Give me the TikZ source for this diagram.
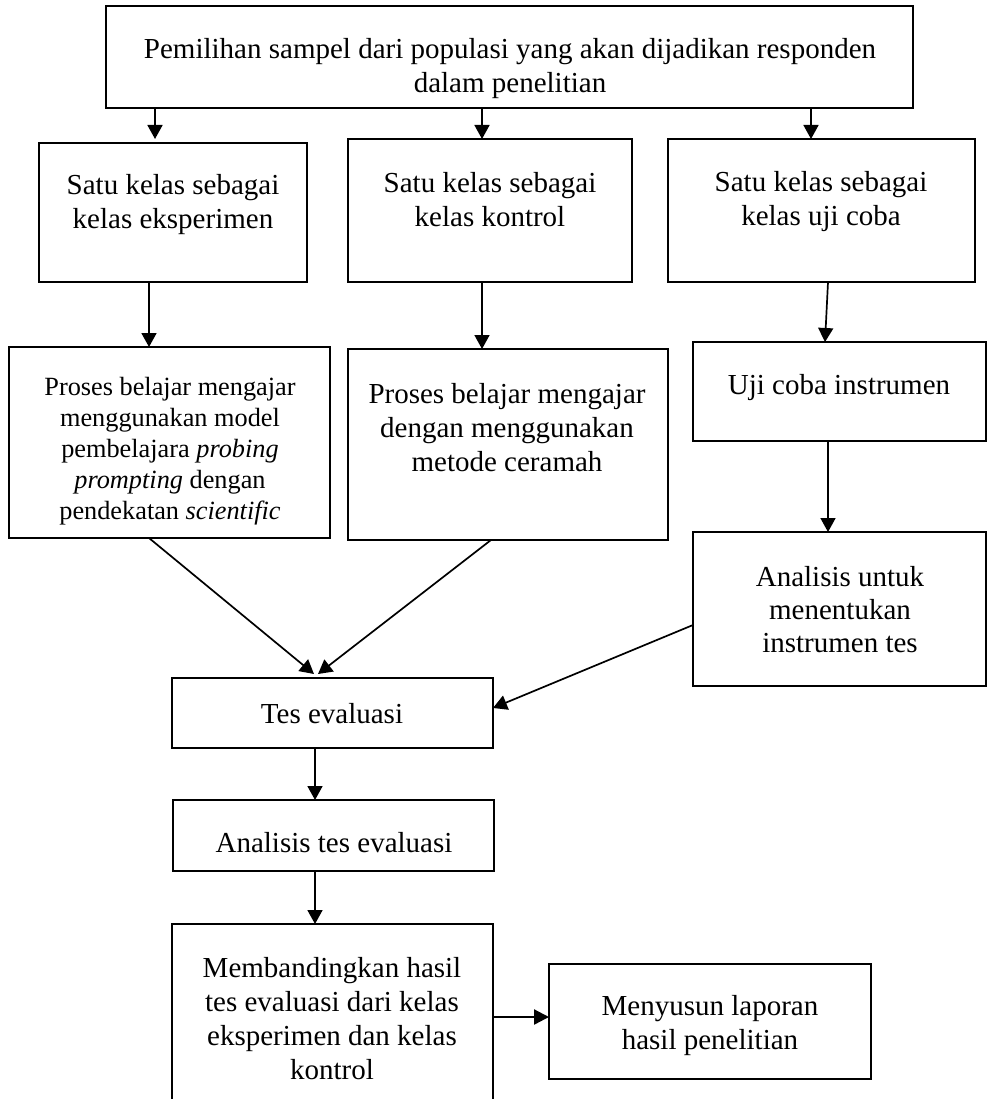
\documentclass[tikz,border=0pt]{standalone}
\usepackage{fontspec}
\setmainfont{Liberation Serif}
\usetikzlibrary{arrows.meta,calc}
\begin{document}
\begin{tikzpicture}[x=1pt,y=-1pt,
  box/.style={draw, line width=1.8pt, inner sep=0pt, outer sep=0pt, anchor=north west},
  txt/.style={align=center, inner sep=0pt, font=\fontsize{29}{34}\selectfont},
  arr/.style={line width=1.7pt, -{Triangle[length=14pt,width=15pt]}},
  bigarr/.style={line width=2.3pt, -{Triangle[length=15pt,width=15pt]}}]
\useasboundingbox (0,0) rectangle (987,1099);
% boxes
\node[box, minimum width=807pt, minimum height=102pt] (top) at (106,6) {};
\node[box, minimum width=268pt, minimum height=139pt] (b1) at (39,143) {};
\node[box, minimum width=284pt, minimum height=143pt] (b2) at (348,139) {};
\node[box, minimum width=307pt, minimum height=143pt] (b3) at (668,139) {};
\node[box, minimum width=321pt, minimum height=191pt] (c1) at (9,347) {};
\node[box, minimum width=320pt, minimum height=191pt] (c2) at (348,349) {};
\node[box, minimum width=293pt, minimum height=99pt] (c3) at (693,342) {};
\node[box, minimum width=293pt, minimum height=154pt] (d3) at (693,532) {};
\node[box, minimum width=321pt, minimum height=70pt] (tes) at (172,678) {};
\node[box, minimum width=321pt, minimum height=71pt] (anl) at (173,800) {};
\node[box, minimum width=321pt, minimum height=200pt] (mem) at (172,924) {};
\node[box, minimum width=322pt, minimum height=115pt] (men) at (549,964) {};
% texts
\node[txt] (topt) at (510,69) {Pemilihan sampel dari populasi yang akan dijadikan responden\\dalam penelitian};
\node[txt] (b1t) at (173,205) {Satu kelas sebagai\\kelas eksperimen};
\node[txt] (b2t) at (490,200) {Satu kelas sebagai\\kelas kontrol};
\node[txt] (b3t) at (821,202) {Satu kelas sebagai\\kelas uji coba};
\node[txt, font=\fontsize{26.3}{31}\selectfont] (c1t) at (170,451) {Proses belajar mengajar\\menggunakan model\\pembelajara \textit{probing}\\\textit{prompting} dengan\\pendekatan \textit{scientific}};
\node[txt] (c2t) at (507,428) {Proses belajar mengajar\\dengan menggunakan\\metode ceramah};
\node[txt] (c3t) at (839,388) {Uji coba instrumen};
\node[txt, font=\fontsize{29}{33}\selectfont] (d3t) at (840,610) {Analisis untuk\\menentukan\\instrumen tes};
\node[txt] (test) at (332,714) {Tes evaluasi};
\node[txt] (anlt) at (334,843) {Analisis tes evaluasi};
\node[txt] (memt) at (332,1019) {Membandingkan hasil\\tes evaluasi dari kelas\\eksperimen dan kelas\\kontrol};
\node[txt] (ment) at (710,1026) {Menyusun laporan\\hasil penelitian};
% connectors
\draw[arr] (top.south -| 155,0) -- ($(b1.north -| 155,0)+(0,-4)$);
\draw[arr] (top.south -| 482,0) -- (b2.north -| 482,0);
\draw[arr] (top.south -| 811,0) -- (b3.north -| 811,0);
\draw[arr] (b1.south -| 149,0) -- (c1.north -| 149,0);
\draw[arr] (b2.south -| 482,0) -- (c2.north -| 482,0);
\draw[arr] (b3.south -| 828,0) -- (c3.north -| 825,0);
\draw[arr] (c3.south -| 828,0) -- (d3.north -| 828,0);
\draw[arr] (c1.south -| 149,0) -- ($(tes.north -| 314,0)+(0,-4)$);
\draw[arr] (c2.south -| 491,0) -- ($(tes.north -| 318,0)+(0,-4)$);
\draw[arr] (d3.west |- 0,625) -- (tes.east |- 0,708);
\draw[arr] (tes.south -| 315,0) -- (anl.north -| 315,0);
\draw[arr] (anl.south -| 315,0) -- (mem.north -| 315,0);
\draw[bigarr] (mem.east |- 0,1017) -- (men.west |- 0,1017);
\end{tikzpicture}
\end{document}
